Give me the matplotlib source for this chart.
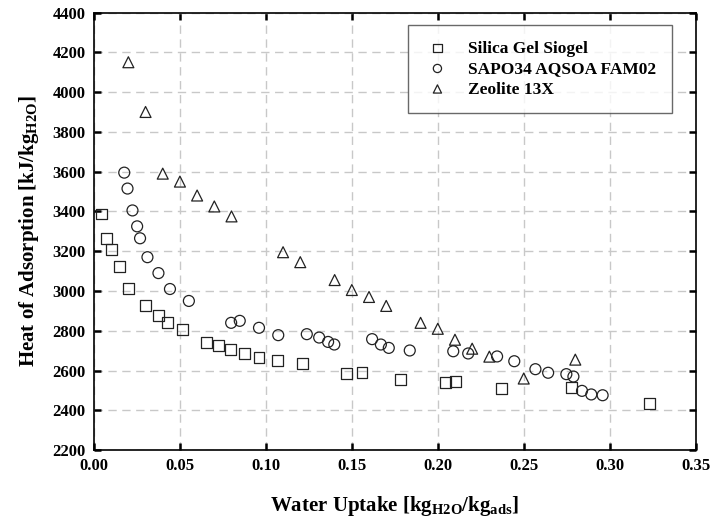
import numpy as np
import matplotlib
matplotlib.use("Agg")
import matplotlib.pyplot as plt

plt.rcParams['font.family'] = ['Liberation Serif', 'DejaVu Serif']
plt.rcParams['font.weight'] = 'bold'
plt.rcParams['mathtext.fontset'] = 'custom'
plt.rcParams['mathtext.rm'] = 'Liberation Serif:bold'
plt.rcParams['mathtext.it'] = 'Liberation Serif:bold'
plt.rcParams['mathtext.bf'] = 'Liberation Serif:bold'

# Silica Gel Siogel
silica_x = [0.0042, 0.0073, 0.0104, 0.0149, 0.0203, 0.0297, 0.0377, 0.0425, 0.0516,
            0.0655, 0.0724, 0.0796, 0.0877, 0.0960, 0.1068, 0.1211, 0.1468, 0.1559,
            0.1784, 0.2045, 0.2101, 0.2370, 0.2777, 0.3231]
silica_y = [3387, 3264, 3208, 3123, 3011, 2929, 2875, 2841, 2808,
            2743, 2724, 2708, 2687, 2667, 2651, 2634, 2587, 2592,
            2557, 2540, 2543, 2512, 2513, 2435]

# SAPO34 AQSOA FAM02
sapo_x = [0.0176, 0.0195, 0.0224, 0.0251, 0.0268, 0.0311, 0.0375, 0.0442, 0.0552,
          0.0798, 0.0848, 0.0960, 0.1072, 0.1238, 0.1310, 0.1362, 0.1398, 0.1618,
          0.1669, 0.1715, 0.1837, 0.2090, 0.2177, 0.2345, 0.2445, 0.2568, 0.2642,
          0.2748, 0.2789, 0.2839, 0.2893, 0.2959]
sapo_y = [3595, 3515, 3405, 3325, 3265, 3170, 3090, 3010, 2950,
          2840, 2850, 2815, 2778, 2783, 2766, 2744, 2731, 2758,
          2731, 2714, 2701, 2697, 2686, 2671, 2647, 2607, 2589,
          2582, 2570, 2498, 2480, 2476]

# Zeolite 13X
zeo_x = [0.02, 0.03, 0.04, 0.05, 0.06, 0.07, 0.08, 0.11, 0.12, 0.14,
         0.15, 0.16, 0.17, 0.19, 0.20, 0.21, 0.22, 0.23, 0.25, 0.28]
zeo_y = [4150, 3900, 3590, 3550, 3480, 3425, 3375, 3195, 3145, 3055,
         3005, 2970, 2925, 2840, 2810, 2755, 2710, 2670, 2560, 2655]

xticks = np.arange(0, 0.351, 0.05)
yticks = np.arange(2200, 4401, 200)

fig = plt.figure(figsize=(7.12, 5.21), dpi=100)
ax = fig.add_axes([0.132, 0.136, 0.845, 0.84])

mk = dict(s=62, facecolors='none', edgecolors='#222222', linewidths=0.9, zorder=3)
ax.scatter(silica_x, silica_y, marker='s', label='Silica Gel Siogel', **mk)
ax.scatter(sapo_x, sapo_y, marker='o', label='SAPO34 AQSOA FAM02', **mk)
ax.scatter(zeo_x, zeo_y, marker='^', label='Zeolite 13X', **mk)

ax.set_xlim(0, 0.35)
ax.set_ylim(2200, 4400)
ax.set_xticks(xticks)
ax.set_yticks(yticks)
ax.set_xticklabels(['%.2f' % t for t in xticks])

ax.grid(True, color='#c8c8c8', linestyle=(0, (6, 4)), linewidth=1.0)
ax.set_axisbelow(True)
ax.tick_params(direction='in', length=5, width=1.8, top=True, right=True,
               labelsize=12, pad=6)
for sp in ax.spines.values():
    sp.set_linewidth(1.2)

ax.set_xlabel(r'Water Uptake [kg$_{\rm H2O}$/kg$_{\rm ads}$]', fontsize=15,
              fontweight='bold', labelpad=14)
ax.set_ylabel(r'Heat of Adsorption [kJ/kg$_{\rm H2O}$]', fontsize=15,
              fontweight='bold', labelpad=8)

leg = ax.legend(loc='upper right', bbox_to_anchor=(0.96, 0.972), fontsize=12.5,
                frameon=True, fancybox=False, edgecolor='#444444',
                markerscale=0.75, borderpad=0.9, handlelength=1.6,
                handletextpad=0.95, labelspacing=0.25, borderaxespad=0)
leg.get_frame().set_linewidth(1.0)

fig.savefig('out.png', dpi=100)
